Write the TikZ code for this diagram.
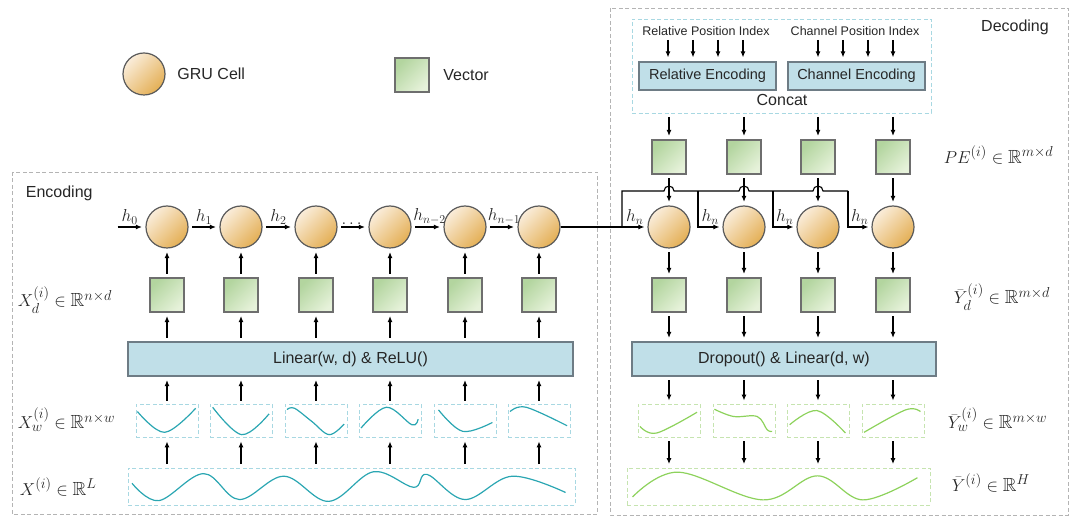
\documentclass[tikz,border=0pt]{standalone}
\usepackage{amsmath,amssymb}
\usepackage[no-math]{fontspec}
\setmainfont{Liberation Sans}
\usetikzlibrary{arrows.meta,calc,positioning}

\definecolor{cellhi}{HTML}{FAEDDA}
\definecolor{cellsh}{HTML}{E4AF55}
\definecolor{cellrim}{HTML}{5A5A5A}
\definecolor{vechi}{HTML}{B3D59F}
\definecolor{vecsh}{HTML}{E6F2DA}
\definecolor{vecrim}{HTML}{6E6E6E}
\definecolor{layerfill}{HTML}{C0DFE8}
\definecolor{layerrim}{HTML}{6E7C85}
\definecolor{framegray}{HTML}{B4B4B4}
\definecolor{wincyan}{HTML}{A8D8E2}
\definecolor{wingreen}{HTML}{C6E4B0}
\definecolor{waveteal}{HTML}{2AA6B2}
\definecolor{wavegreen}{HTML}{8DD25C}
\definecolor{ink}{HTML}{262626}

% curve drawn inside a window node, points given as fractions of its size
\newcommand{\sigplot}[5]{%
  \begin{scope}[shift={(#1.south west)},x=#3,y=#4]
    \draw[#2] plot[smooth,tension=0.6] coordinates {#5};
  \end{scope}}

\begin{document}
\begin{tikzpicture}[x=1pt,y=-1pt,>={Latex[length=6pt,width=5pt]},line width=1.1pt,
  font=\fontsize{16}{19}\selectfont,text=ink,
  cell/.style={circle,draw=cellrim,line width=1.2pt,minimum size=42pt,inner sep=0pt,
    top color=cellhi,bottom color=cellsh,shading angle=45},
  vec/.style={rectangle,draw=vecrim,line width=1.1pt,minimum size=34pt,inner sep=0pt,
    top color=vechi,bottom color=vecsh,shading angle=45},
  layer/.style={rectangle,draw=layerrim,fill=layerfill,line width=1.2pt,inner sep=0pt},
  frame/.style={draw=framegray,dash pattern=on 4pt off 2.5pt,line width=0.9pt},
  win/.style={rectangle,draw=wincyan,dash pattern=on 4pt off 2.5pt,line width=0.9pt,
    minimum width=62pt,minimum height=33pt,inner sep=0pt},
  gwin/.style={win,draw=wingreen},
  flow/.style={->,shorten <=3.5pt,shorten >=3.5pt},
  wave/.style={draw=waveteal,line width=1.2pt},
  gwave/.style={draw=wavegreen,line width=1.2pt},
  hlbl/.style={above=0pt,font=\fontsize{18}{20}\selectfont,inner sep=2pt},
  mlbl/.style={anchor=west,font=\fontsize{19}{22}\selectfont}]
  \useasboundingbox (0,0) rectangle (1080,526);

  % legend
  \node[cell] (lgcell) at (144,74) {};
  \node[right=8pt of lgcell] (lgcelltxt) {GRU Cell};
  \node[vec] (lgvec) at (412,75) {};
  \node[right=10pt of lgvec] (lgvectxt) {Vector};

  % encoding
  \draw[frame] (12,172) rectangle (597,514);
  \node[anchor=west] (enctitle) at (22,193) {Encoding};
  \foreach \i/\x in {1/167,2/241,3/316,4/390,5/465,6/539}{
    \node[cell] (c\i) at (\x,227) {};
    \node[vec] (s\i) at (\x,295) {};
    \node[win] (w\i) at (\x,421) {};
  }
  \node[layer,minimum width=445pt,minimum height=34pt] (lin) at (350.5,359) {Linear(w, d) \& ReLU()};
  \node[win,minimum width=447pt,minimum height=37pt] (xin) at (351.5,486.5) {};

  \coordinate (h0) at (114,227);
  \draw[flow] (h0) -- node[hlbl]{$h_0$} (c1);
  \draw[flow] (c1) -- node[hlbl]{$h_1$} (c2);
  \draw[flow] (c2) -- node[hlbl]{$h_2$} (c3);
  \draw[flow] (c3) -- node[hlbl]{$\dots$} (c4);
  \draw[flow] (c4) -- node[hlbl,xshift=2pt]{$h_{n-2}$} (c5);
  \draw[flow] (c5) -- node[hlbl,xshift=2pt]{$h_{n-1}$} (c6);
  \foreach \i in {1,...,6}{
    \draw[flow] (s\i) -- (c\i);
    \draw[flow] (lin.north -| s\i) -- (s\i);
    \draw[flow] (w\i) -- (lin.south -| w\i);
    \draw[flow] (xin.north -| w\i) -- (w\i);
  }

  \sigplot{w1}{wave}{62pt}{33pt}{(0.03,0.8) (0.47,0.17) (0.97,0.9)}
  \sigplot{w2}{wave}{62pt}{33pt}{(0.05,0.93) (0.52,0.1) (0.96,0.73)}
  \sigplot{w3}{wave}{62pt}{33pt}{(0.04,0.86) (0.16,0.9) (0.44,0.5) (0.72,0.1) (0.96,0.42)}
  \sigplot{w4}{wave}{62pt}{33pt}{(0.04,0.3) (0.45,0.93) (0.86,0.4) (0.96,0.57)}
  \sigplot{w5}{wave}{62pt}{33pt}{(0.08,0.85) (0.47,0.2) (0.95,0.47)}
  \sigplot{w6}{wave}{62pt}{33pt}{(0.04,0.8) (0.3,0.93) (0.96,0.37)}
  \sigplot{xin}{wave}{447pt}{37pt}{(0.01,0.6) (0.07,0.13) (0.17,0.86) (0.25,0.16) (0.35,0.79) (0.45,0.11) (0.55,0.91) (0.64,0.49) (0.67,0.84) (0.755,0.16) (0.86,0.79) (0.98,0.35)}

  \node[mlbl] (xdlbl) at (14,300) {$X_d^{(i)}\in\mathbb{R}^{n\times d}$};
  \node[mlbl] (xwlbl) at (14,420) {$X_w^{(i)}\in\mathbb{R}^{n\times w}$};
  \node[mlbl] (xlbl) at (16,487) {$X^{(i)}\in\mathbb{R}^{L}$};

  % decoding
  \draw[frame] (610,8) rectangle (1068,515);
  \node (dectitle) at (1015,27) {Decoding};
  \node[win,minimum width=299pt,minimum height=94pt] (pe) at (781.5,66) {};
  \node[font=\fontsize{12.5}{15}\selectfont] (relidx) at (706,31) {Relative Position Index};
  \node[font=\fontsize{12.5}{15}\selectfont] (chidx) at (855,31) {Channel Position Index};
  \node[layer,minimum width=137pt,minimum height=28pt,font=\fontsize{14.5}{17}\selectfont] (relenc) at (707.5,76) {Relative Encoding};
  \node[layer,minimum width=137pt,minimum height=28pt,font=\fontsize{14.5}{17}\selectfont] (chenc) at (856.5,76) {Channel Encoding};
  \node (cat) at (782,100) {Concat};
  \foreach \k/\x in {1/668,2/693,3/718,4/743}{
    \coordinate (ri\k) at (\x,40);
    \draw[->,shorten >=4pt] (ri\k) -- (ri\k |- relenc.north);
  }
  \foreach \k/\x in {1/818,2/843,3/868,4/893}{
    \coordinate (ci\k) at (\x,40);
    \draw[->,shorten >=4pt] (ci\k) -- (ci\k |- chenc.north);
  }

  \foreach \k/\x in {1/669,2/744,3/818,4/893}{
    \node[vec] (p\k) at (\x,157) {};
    \node[cell] (d\k) at (\x,227) {};
    \node[vec] (q\k) at (\x,295) {};
    \node[gwin] (v\k) at (\x,421) {};
  }
  \node[layer,minimum width=304pt,minimum height=34pt] (drop) at (784,359) {Dropout() \& Linear(d, w)};
  \node[gwin,minimum width=303pt,minimum height=37pt] (yout) at (778.5,486.5) {};

  % hidden state handed to every decoder cell
  \coordinate (hsplit) at (622,227);
  \coordinate (hbus) at (622,191);
  \foreach \k/\x in {2/698,3/773,4/848} \coordinate (b\k) at (\x,191);
  \draw[->,shorten >=3pt] (c6.east) -- (hsplit) -- node[hlbl]{$h_n$} (d1);
  \draw (hsplit) -- (hbus) -- (664,191) arc(180:360:5) -- (739,191) arc(180:360:5)
    -- (813,191) arc(180:360:5) -- (b4);
  \foreach \k in {2,3,4}
    \draw[->,shorten >=3pt] (b\k) |- node[pos=0.75,hlbl]{$h_n$} (d\k);

  \foreach \k in {1,...,4}{
    \draw[flow] (pe.south -| p\k) -- (p\k);
    \draw[flow] (p\k) -- (d\k);
    \draw[flow] (d\k) -- (q\k);
    \draw[flow] (q\k) -- (drop.north -| q\k);
    \draw[flow] (drop.south -| v\k) -- (v\k);
    \draw[flow] (v\k) -- (yout.north -| v\k);
  }

  \sigplot{v1}{gwave}{62pt}{33pt}{(0.04,0.35) (0.31,0.15) (0.96,0.78)}
  \sigplot{v2}{gwave}{62pt}{33pt}{(0.03,0.87) (0.34,0.65) (0.72,0.65) (0.88,0.25) (0.96,0.2)}
  \sigplot{v3}{gwave}{62pt}{33pt}{(0.05,0.4) (0.49,0.83) (0.95,0.15)}
  \sigplot{v4}{gwave}{62pt}{33pt}{(0.04,0.17) (0.71,0.85) (0.95,0.8)}
  \sigplot{yout}{gwave}{303pt}{37pt}{(0.02,0.23) (0.17,0.9) (0.45,0.15) (0.63,0.8) (0.78,0.15) (0.96,0.75)}

  \node[mlbl] (pelbl) at (940,155) {$PE^{(i)}\in\mathbb{R}^{m\times d}$};
  \node[mlbl] (ydlbl) at (950,297) {$\bar{Y}_d^{(i)}\in\mathbb{R}^{m\times d}$};
  \node[mlbl] (ywlbl) at (944,420) {$\bar{Y}_w^{(i)}\in\mathbb{R}^{m\times w}$};
  \node[mlbl] (ylbl) at (948,483) {$\bar{Y}^{(i)}\in\mathbb{R}^{H}$};
\end{tikzpicture}
\end{document}
